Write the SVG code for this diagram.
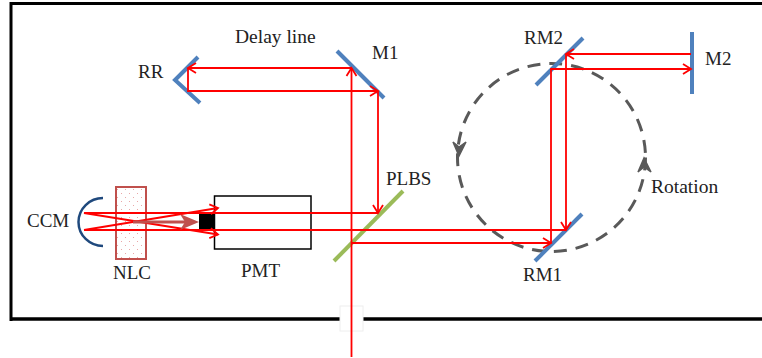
<svg xmlns="http://www.w3.org/2000/svg" width="762" height="358" viewBox="0 0 762 358">
<defs>
<marker id="open" markerUnits="userSpaceOnUse" markerWidth="14" markerHeight="14" refX="11" refY="7" orient="auto"><path d="M3 2L11 7L3 12" fill="none" stroke="#f00" stroke-width="1.8"/></marker>
<pattern id="dots" width="8" height="8" patternUnits="userSpaceOnUse"><rect width="8" height="8" fill="#fff"/><rect x="1" y="1" width="1" height="1" fill="#e8a8a8"/><rect x="5" y="5" width="1" height="1" fill="#e8a8a8"/></pattern>
</defs>
<style>
text{font-family:"Liberation Serif","Times New Roman",serif;font-size:19px;fill:#222}
.m{fill:none;stroke:#4f81bd;stroke-width:4}
.r{fill:none;stroke:#f00;stroke-width:1.8}
.d{fill:none;stroke:#595959;stroke-width:3}
</style>
<rect width="762" height="358" fill="#fff"/>
<g id="frame"><path d="M11 358V3.500H762" fill="none" stroke="#000" stroke-width="3"/><path d="M11 319H762" fill="none" stroke="#000" stroke-width="3.500"/><path d="M11 321V358" fill="none" stroke="#fff" stroke-width="5"/><rect x="340" y="306" width="23" height="25" fill="#fff" stroke="#eee"/></g>
<g id="rotation"><circle cx="551.5" cy="157.5" r="94" class="d" stroke-dasharray="13 9"/><path d="M453 142L459 147L466 142L459 156Z" fill="#595959" stroke="#595959" stroke-width="1.500"/><path d="M638 172L644 167L651 172L644 158Z" fill="#595959" stroke="#595959" stroke-width="1.500"/></g>
<g id="NLC"><rect x="116" y="187" width="30" height="72" fill="url(#dots)" stroke="#c0504d" stroke-width="2"/><text x="113" y="279">NLC</text></g>
<g id="PMT"><rect x="214.500" y="196" width="96.500" height="53" fill="none" stroke="#000" stroke-width="1.500"/><rect x="199" y="214" width="16" height="16" fill="#000"/><text x="241" y="277">PMT</text></g>
<g id="CCM"><path d="M103 198A24.500 24 0 0 0 103 246" fill="none" stroke="#1f497d" stroke-width="2.500"/><text x="27" y="227">CCM</text></g>
<g id="RR"><path d="M198 57L175 80L200 103" class="m"/><text x="138" y="78">RR</text></g>
<g id="M1"><path d="M337 51L384 98" class="m"/><text x="372" y="59">M1</text></g>
<g id="M2"><path d="M692 32V94" class="m"/><text x="705" y="65">M2</text></g>
<g id="RM1"><path d="M535 261L582 214" class="m"/><text x="523" y="281">RM1</text></g>
<g id="RM2"><path d="M536 85L583 38" class="m"/><text x="524" y="44">RM2</text></g>
<g id="PLBS"><path d="M334 261L403 191" fill="none" stroke="#9bbb59" stroke-width="4"/><text x="386" y="185">PLBS</text></g>
<g id="label-delay"><text x="235" y="43" style="font-size:19.500px">Delay line</text></g>
<g id="label-rotation"><text x="651" y="193" style="font-size:19.500px">Rotation</text></g>
<g id="connectors">
<path d="M351.500 357V68" class="r" marker-end="url(#open)"/>
<path d="M351.500 68H188" class="r" marker-end="url(#open)"/>
<path d="M188 68V91H378" class="r" marker-end="url(#open)"/>
<path d="M378 91V213" class="r" marker-end="url(#open)"/>
<path d="M378 213H84L218 234.500" class="r" marker-end="url(#open)"/>
<path d="M84 230L218 208" class="r" marker-end="url(#open)"/>
<path d="M84 230H566" class="r"/>
<path d="M566 54V230" class="r" marker-end="url(#open)"/>
<path d="M691 54H566" class="r" marker-end="url(#open)"/>
<path d="M551 243V69H691" class="r" marker-end="url(#open)"/>
<path d="M351.500 243H551" class="r" marker-end="url(#open)"/>
<path d="M133 222H186" fill="none" stroke="#c0504d" stroke-width="3"/><path d="M180 214L199 222L180 230L185 222Z" fill="#c0504d"/>
</g>
</svg>
